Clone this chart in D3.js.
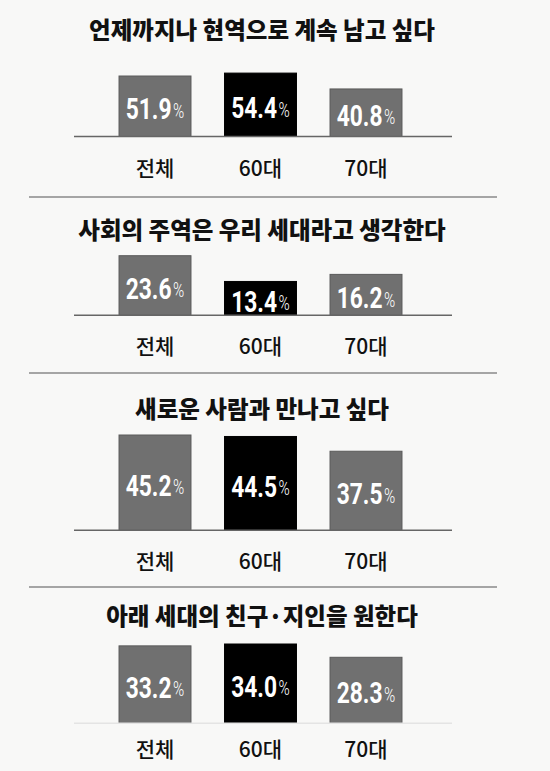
<!DOCTYPE html>
<html>
<head>
<meta charset="utf-8">
<script src="https://cdn.jsdelivr.net/npm/d3@7"></script>
<style>
  body { margin: 0; background: #f8f8f7; }
  svg { display: block; }
</style>
</head>
<body>
<script>
// survey answers by age group (%)
var titles = [
  "언제까지나 현역으로 계속 남고 싶다",
  "사회의 주역은 우리 세대라고 생각한다",
  "새로운 사람과 만나고 싶다",
  "아래 세대의 친구·지인을 원한다"
];
var groups = ["전체", "60대", "70대"];
var values = [
  [51.9, 54.4, 40.8],
  [23.6, 13.4, 16.2],
  [45.2, 44.5, 37.5],
  [33.2, 34.0, 28.3]
];

// layout of each panel: y of title, y of baseline, pixel height of the tallest bar
var panels = [
  { titleY: 29,  baseY: 136.5, maxH: 63.4 },
  { titleY: 229, baseY: 315.3, maxH: 59.6 },
  { titleY: 408, baseY: 530.3, maxH: 95.3 },
  { titleY: 615, baseY: 723.3, maxH: 79.3 }
];
var rules = [197, 373, 587];

var width = 550, height = 771;
var svg = d3.select("body").append("svg")
    .attr("width", width)
    .attr("height", height);

svg.append("rect")
    .attr("width", width)
    .attr("height", height)
    .attr("fill", "#f8f8f7");

// x scale is shared by all panels
var x = d3.scaleBand()
    .domain(groups)
    .range([102.25, 418.75])
    .paddingInner(0.318)
    .paddingOuter(0.159);

var korean = "'Noto Sans CJK KR', 'Noto Sans', sans-serif";
var numFont = "Roboto, 'Liberation Sans', sans-serif";

// separators between the panels
svg.selectAll("line.rule")
    .data(rules)
    .enter()
    .append("line")
    .attr("class", "rule")
    .attr("x1", 29)
    .attr("x2", 497)
    .attr("y1", function(d) { return d; })
    .attr("y2", function(d) { return d; })
    .attr("stroke", "#8a8a8a")
    .attr("stroke-width", 1.5);

panels.forEach(function(p, i) {
  var g = svg.append("g");
  var data = values[i];

  // own scale for each panel
  var y = d3.scaleLinear()
      .domain([0, d3.max(data)])
      .range([0, p.maxH]);

  g.append("text")
      .attr("x", 262)
      .attr("y", p.titleY)
      .attr("dominant-baseline", "central")
      .attr("text-anchor", "middle")
      .style("font-family", korean)
      .style("font-weight", 800)
      .style("font-size", "23.5px")
      .attr("fill", "#111")
      .text(titles[i]);

  // bars
  g.selectAll("rect")
      .data(data)
      .enter()
      .append("rect")
      .attr("x", function(d, j) { return x(groups[j]); })
      .attr("y", function(d) { return p.baseY - y(d); })
      .attr("width", x.bandwidth())
      .attr("height", function(d) { return y(d); })
      .attr("fill", function(d, j) { return j === 1 ? "#000" : "#707070"; })
      .attr("stroke", function(d, j) { return j === 1 ? "#000" : "#5a5a5a"; })
      .attr("stroke-width", 1);

  // baseline
  g.append("line")
      .attr("x1", 74)
      .attr("x2", 452)
      .attr("y1", p.baseY)
      .attr("y2", p.baseY)
      .attr("stroke", i === 3 ? "#e4e4e4" : "#666")
      .attr("stroke-width", 1.5);

  // value labels, squeezed to look condensed
  var lab = g.selectAll("text.val")
      .data(data)
      .enter()
      .append("text")
      .attr("class", "val")
      .attr("transform", function(d, j) {
        var cx = x(groups[j]) + x.bandwidth() / 2;
        var cy = p.baseY - y(d) / 2 + 3;
        return "translate(" + cx + "," + cy + ") scale(0.76,1)";
      })
      .attr("dominant-baseline", "central")
      .attr("text-anchor", "middle")
      .attr("fill", "#fff")
      .style("font-family", numFont);
  lab.append("tspan")
      .style("font-weight", 700)
      .style("font-size", "30px")
      .text(function(d) { return d.toFixed(1); });
  lab.append("tspan")
      .attr("dx", 2)
      .attr("dy", 2)
      .style("font-weight", 300)
      .style("font-size", "20px")
      .text("%");

  // category labels
  g.selectAll("text.cat")
      .data(groups)
      .enter()
      .append("text")
      .attr("class", "cat")
      .attr("x", function(d) { return x(d) + x.bandwidth() / 2; })
      .attr("y", p.baseY + (i === 3 ? 25 : 30))
      .attr("dominant-baseline", "central")
      .attr("text-anchor", "middle")
      .style("font-family", korean)
      .style("font-weight", 500)
      .style("font-size", "21px")
      .attr("fill", "#111")
      .text(function(d) { return d; });
});
</script>
</body>
</html>
